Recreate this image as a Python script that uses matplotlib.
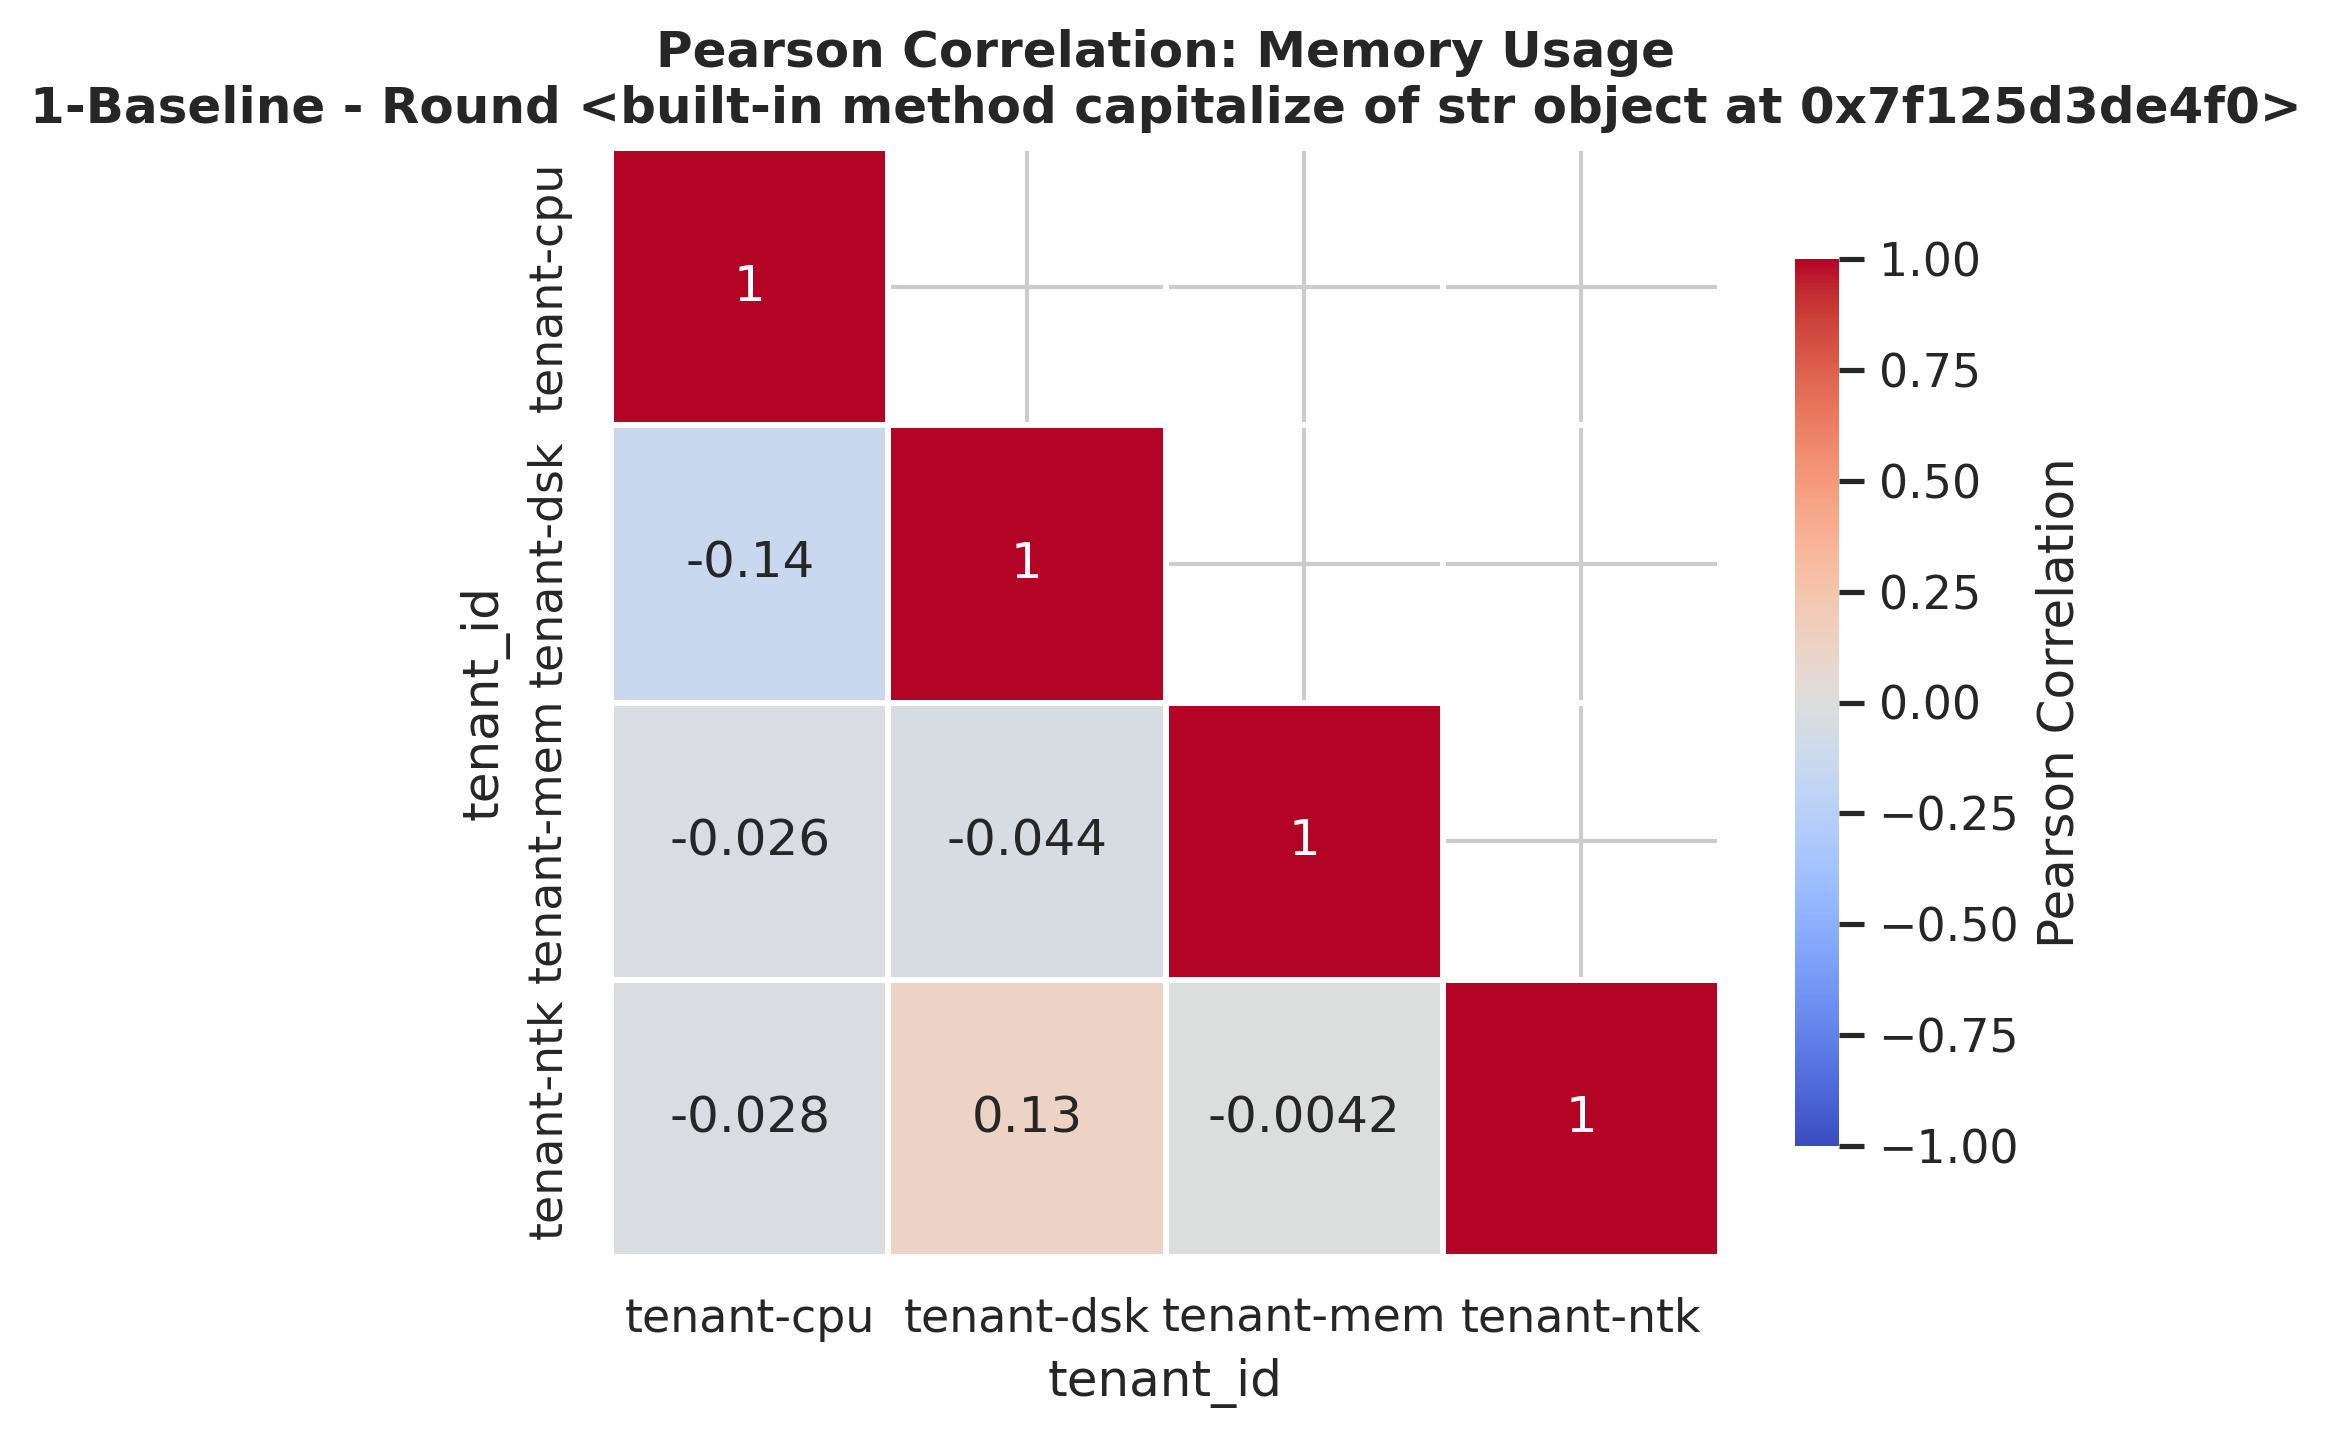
import numpy as np
import pandas as pd
import matplotlib
matplotlib.use("Agg")
import matplotlib.pyplot as plt
import seaborn as sns

tenants = ["tenant-cpu", "tenant-dsk", "tenant-mem", "tenant-ntk"]
row_cpu = [1.0, -0.14, -0.026, -0.028]
row_dsk = [-0.14, 1.0, -0.044, 0.13]
row_mem = [-0.026, -0.044, 1.0, -0.0042]
row_ntk = [-0.028, 0.13, -0.0042, 1.0]

title = ("Pearson Correlation: Memory Usage\n"
         "1-Baseline - Round <built-in method capitalize of str object at 0x7f125d3de4f0>")

sns.set_theme(style="whitegrid")

corr = pd.DataFrame([row_cpu, row_dsk, row_mem, row_ntk],
                    index=pd.Index(tenants, name="tenant_id"),
                    columns=pd.Index(tenants, name="tenant_id"))
# hide the upper triangle, keep the diagonal
mask = np.triu(np.ones_like(corr, dtype=bool), k=1)

W, H = 2331, 1438
fig = plt.figure(figsize=(W / 300, H / 300), dpi=300)
ax = fig.add_axes([611 / W, 1 - 1257 / H, 1109 / W, 1109 / H])
cax = fig.add_axes([1795 / W, 1 - 1146 / H, 44 / W, 887 / H])

sns.heatmap(corr, mask=mask, cmap="coolwarm", vmin=-1, vmax=1, annot=True,
            square=True, linewidths=1, ax=ax, cbar_ax=cax,
            cbar_kws={"label": "Pearson Correlation"})
ax.set_title(title, fontweight="bold")

fig.savefig("out.png", dpi=300)
